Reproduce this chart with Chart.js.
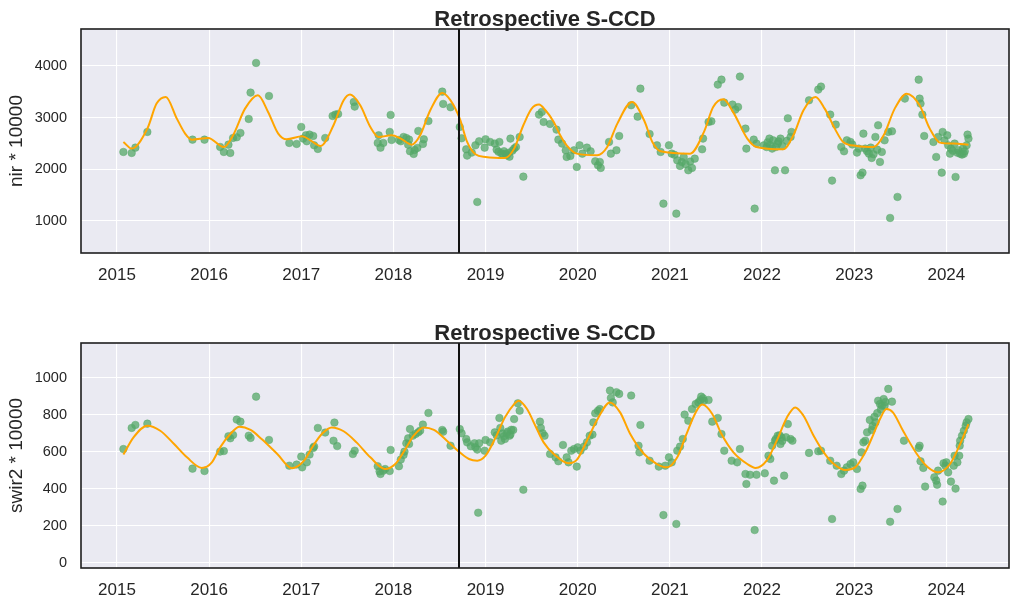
<!DOCTYPE html>
<html>
<head>
<meta charset="utf-8">
<script src="https://cdn.jsdelivr.net/npm/chart.js@4/dist/chart.umd.min.js"></script>
<style>
  html, body { margin: 0; padding: 0; background: #ffffff; }
  #wrap { position: relative; width: 1020px; height: 609px; overflow: hidden; }
  canvas { position: absolute; left: 0; }
</style>
</head>
<body>
<div id="wrap">
  <canvas id="c1" width="1020" height="300" style="top:0px;width:1020px;height:300px"></canvas>
  <canvas id="c2" width="1020" height="295" style="top:314px;width:1020px;height:295px"></canvas>
</div>
<script>
// ---------------- DATA ----------------
const chartTitle = "Retrospective S-CCD";
const yearTicks = [2015, 2016, 2017, 2018, 2019, 2020, 2021, 2022, 2023, 2024];
const breakDate = 2018.715;

const nirLabel = "nir * 10000";
const nirTicks = [1000, 2000, 3000, 4000];
const nirDates = [
  2015.07, 2015.16, 2015.20, 2015.33, 2015.82, 2015.95, 2016.12, 2016.16, 2016.21, 2016.23,
  2016.26, 2016.30, 2016.34, 2016.43, 2016.45, 2016.51, 2016.65, 2016.87, 2016.95, 2017.00,
  2017.02, 2017.05, 2017.06, 2017.09, 2017.13, 2017.14, 2017.18, 2017.26, 2017.34, 2017.37,
  2017.40, 2017.57, 2017.58, 2017.83, 2017.84, 2017.86, 2017.89, 2017.96, 2017.97, 2017.98,
  2018.06, 2018.08, 2018.11, 2018.14, 2018.16, 2018.17, 2018.18, 2018.22, 2018.23, 2018.26,
  2018.27, 2018.32, 2018.33, 2018.38, 2018.53, 2018.54, 2018.62, 2018.72, 2018.74, 2018.79,
  2018.80, 2018.85, 2018.89, 2018.91, 2018.93, 2018.99, 2019.00, 2019.05, 2019.10, 2019.12,
  2019.14, 2019.15, 2019.17, 2019.19, 2019.20, 2019.22, 2019.23, 2019.25, 2019.26, 2019.27,
  2019.29, 2019.31, 2019.33, 2019.37, 2019.41, 2019.58, 2019.61, 2019.63, 2019.70, 2019.77,
  2019.79, 2019.83, 2019.87, 2019.88, 2019.92, 2019.96, 2019.99, 2020.02, 2020.05, 2020.10,
  2020.14, 2020.19, 2020.22, 2020.24, 2020.25, 2020.34, 2020.36, 2020.42, 2020.45, 2020.58,
  2020.65, 2020.68, 2020.78, 2020.86, 2020.90, 2020.93, 2020.99, 2021.02, 2021.05, 2021.07,
  2021.08, 2021.11, 2021.13, 2021.15, 2021.17, 2021.20, 2021.22, 2021.24, 2021.27, 2021.35,
  2021.36, 2021.42, 2021.45, 2021.52, 2021.56, 2021.59, 2021.68, 2021.71, 2021.74, 2021.76,
  2021.82, 2021.83, 2021.91, 2021.92, 2021.94, 2022.02, 2022.05, 2022.06, 2022.08, 2022.09,
  2022.11, 2022.12, 2022.14, 2022.15, 2022.17, 2022.18, 2022.20, 2022.22, 2022.25, 2022.27,
  2022.28, 2022.31, 2022.32, 2022.51, 2022.61, 2022.64, 2022.74, 2022.76, 2022.80, 2022.86,
  2022.89, 2022.92, 2022.96, 2022.98, 2023.03, 2023.05, 2023.07, 2023.09, 2023.10, 2023.12,
  2023.14, 2023.16, 2023.18, 2023.19, 2023.21, 2023.23, 2023.25, 2023.26, 2023.28, 2023.30,
  2023.33, 2023.37, 2023.39, 2023.41, 2023.47, 2023.55, 2023.70, 2023.71, 2023.72, 2023.74,
  2023.76, 2023.86, 2023.89, 2023.91, 2023.95, 2023.96, 2023.98, 2024.01, 2024.02, 2024.04,
  2024.05, 2024.07, 2024.09, 2024.10, 2024.12, 2024.13, 2024.15, 2024.17, 2024.18, 2024.19,
  2024.20, 2024.22, 2024.23, 2024.24
];
const nirValues = [
  2335, 2316, 2419, 2723, 2574, 2574, 2432, 2335, 2477, 2316,
  2606, 2619, 2703, 2974, 3484, 4058, 3419, 2510, 2490, 2819,
  2594, 2658, 2542, 2671, 2645, 2464, 2394, 2606, 3032, 3058,
  3071, 3303, 3213, 2510, 2658, 2419, 2510, 2723, 3052, 2568,
  2568, 2542, 2626, 2606, 2477, 2574, 2348, 2297, 2374, 2413,
  2742, 2490, 2581, 2935, 3503, 3265, 3200, 2819, 2600, 2387,
  2265, 2323, 2464, 1368, 2542, 2419, 2581, 2529, 2497, 2380,
  2340, 2529, 2310, 2290, 2350, 2300, 2270, 2320, 2245, 2594,
  2360, 2400, 2432, 2626, 1858, 3058, 3110, 2916, 2877, 2768,
  2574, 2497, 2368, 2239, 2258, 2368, 2045, 2464, 2303, 2419,
  2348, 2155, 2077, 2142, 2026, 2529, 2303, 2368, 2645, 3239,
  3019, 3561, 2684, 2464, 2335, 1335, 2464, 2303, 2280, 1142,
  2174, 2065, 2140, 2239, 2100, 1981, 2150, 2026, 2206, 2387,
  2594, 2916, 2929, 3639, 3735, 3290, 3252, 3155, 3206, 3794,
  2787, 2400, 2574, 1239, 2497, 2464, 2430, 2520, 2594, 2470,
  2400, 2561, 1981, 2430, 2497, 2540, 2594, 2450, 1981, 2550,
  2987, 2626, 2723, 3335, 3542, 3600, 3058, 1781, 2865, 2432,
  2348, 2561, 2529, 2480, 2323, 2400, 1884, 1935, 2690, 2400,
  2350, 2303, 2420, 2219, 2290, 2626, 2380, 2852, 2142, 2335,
  2561, 2723, 1058, 2735, 1465, 3368, 3735, 3368, 3271, 3058,
  2645, 2529, 2239, 2626, 1935, 2723, 2561, 2658, 2464, 2303,
  2400, 2360, 2497, 1852, 2320, 2368, 2300, 2284, 2400, 2300,
  2350, 2464, 2671, 2594
];
const nirFitDates = [
  2015.07, 2015.16, 2015.33, 2015.43, 2015.53, 2015.65, 2015.74, 2015.81, 2015.99, 2016.16,
  2016.26, 2016.39, 2016.53, 2016.64, 2016.75, 2016.84, 2017.01, 2017.10, 2017.21, 2017.35,
  2017.46, 2017.53, 2017.64, 2017.75, 2017.84, 2017.98, 2018.08, 2018.20, 2018.29, 2018.40,
  2018.53, 2018.62, 2018.72, 2018.80, 2018.89, 2019.00, 2019.21, 2019.31, 2019.41, 2019.50,
  2019.58, 2019.65, 2019.74, 2019.81, 2019.88, 2019.99, 2020.21, 2020.32, 2020.43, 2020.59,
  2020.72, 2020.81, 2020.90, 2021.22, 2021.37, 2021.47, 2021.58, 2021.69, 2021.84, 2021.94,
  2022.23, 2022.34, 2022.45, 2022.58, 2022.68, 2022.79, 2022.88, 2023.03, 2023.21, 2023.32,
  2023.44, 2023.57, 2023.71, 2023.82, 2023.93, 2024.08, 2024.24
];
const nirFitValues = [
  2529, 2400, 2787, 3271, 3400, 2981, 2690, 2574, 2606, 2432,
  2658, 3174, 3432, 3110, 2690, 2581, 2639, 2561, 2452, 2852,
  3335, 3445, 3239, 2819, 2626, 2658, 2594, 2477, 2658, 3142,
  3477, 3335, 2981, 2529, 2290, 2239, 2219, 2400, 2852, 3174,
  3252, 3142, 2916, 2658, 2464, 2303, 2271, 2432, 2884, 3303,
  2948, 2529, 2348, 2303, 2723, 3206, 3355, 3097, 2594, 2432,
  2387, 2658, 3142, 3400, 3174, 2787, 2529, 2452, 2432, 2658,
  3174, 3464, 3239, 2787, 2516, 2497, 2477
];

const swirLabel = "swir2 * 10000";
const swirTicks = [0, 200, 400, 600, 800, 1000];
const swirDates = [
  2015.07, 2015.16, 2015.20, 2015.33, 2015.82, 2015.95, 2016.12, 2016.16, 2016.21, 2016.23,
  2016.26, 2016.30, 2016.34, 2016.43, 2016.45, 2016.51, 2016.65, 2016.87, 2016.95, 2017.00,
  2017.01, 2017.06, 2017.09, 2017.13, 2017.14, 2017.18, 2017.26, 2017.35, 2017.36, 2017.39,
  2017.56, 2017.58, 2017.83, 2017.85, 2017.86, 2017.89, 2017.91, 2017.96, 2017.97, 2018.06,
  2018.08, 2018.11, 2018.12, 2018.14, 2018.16, 2018.17, 2018.18, 2018.21, 2018.24, 2018.27,
  2018.29, 2018.32, 2018.38, 2018.53, 2018.54, 2018.62, 2018.72, 2018.74, 2018.79, 2018.80,
  2018.84, 2018.88, 2018.89, 2018.91, 2018.92, 2018.93, 2018.99, 2019.00, 2019.05, 2019.10,
  2019.12, 2019.15, 2019.16, 2019.17, 2019.18, 2019.20, 2019.21, 2019.23, 2019.24, 2019.26,
  2019.27, 2019.28, 2019.30, 2019.31, 2019.35, 2019.37, 2019.41, 2019.59, 2019.60, 2019.62,
  2019.64, 2019.70, 2019.76, 2019.79, 2019.84, 2019.88, 2019.90, 2019.93, 2019.96, 2019.99,
  2020.00, 2020.03, 2020.07, 2020.10, 2020.13, 2020.16, 2020.17, 2020.19, 2020.22, 2020.24,
  2020.35, 2020.36, 2020.38, 2020.42, 2020.45, 2020.58, 2020.66, 2020.67, 2020.68, 2020.78,
  2020.88, 2020.93, 2020.95, 2020.99, 2021.02, 2021.07, 2021.08, 2021.11, 2021.14, 2021.16,
  2021.20, 2021.24, 2021.28, 2021.31, 2021.33, 2021.34, 2021.36, 2021.37, 2021.42, 2021.46,
  2021.52, 2021.56, 2021.59, 2021.67, 2021.73, 2021.76, 2021.82, 2021.83, 2021.87, 2021.92,
  2021.94, 2022.03, 2022.07, 2022.09, 2022.11, 2022.13, 2022.14, 2022.15, 2022.17, 2022.19,
  2022.20, 2022.21, 2022.22, 2022.24, 2022.26, 2022.28, 2022.31, 2022.33, 2022.51, 2022.61,
  2022.64, 2022.74, 2022.76, 2022.81, 2022.86, 2022.89, 2022.92, 2022.96, 2022.99, 2023.03,
  2023.07, 2023.08, 2023.09, 2023.10, 2023.12, 2023.14, 2023.17, 2023.19, 2023.20, 2023.22,
  2023.23, 2023.25, 2023.26, 2023.28, 2023.29, 2023.30, 2023.32, 2023.33, 2023.34, 2023.37,
  2023.39, 2023.41, 2023.47, 2023.54, 2023.70, 2023.71, 2023.72, 2023.75, 2023.77, 2023.87,
  2023.89, 2023.90, 2023.91, 2023.96, 2023.97, 2023.99, 2024.00, 2024.02, 2024.05, 2024.08,
  2024.09, 2024.10, 2024.12, 2024.14, 2024.145, 2024.15, 2024.17, 2024.19, 2024.21, 2024.22,
  2024.24
];
const swirValues = [
  616, 730, 746, 753, 510, 497, 602, 605, 685, 674,
  692, 775, 764, 688, 676, 899, 665, 526, 532, 575,
  517, 544, 586, 622, 629, 730, 705, 661, 759, 632,
  589, 607, 523, 495, 481, 499, 508, 497, 611, 523,
  559, 584, 602, 647, 674, 643, 724, 688, 697, 706,
  715, 748, 811, 719, 710, 634, 724, 701, 670, 652,
  631, 647, 625, 613, 272, 647, 607, 665, 652, 706,
  690, 784, 730, 661, 700, 685, 670, 701, 710, 688,
  695, 720, 719, 778, 863, 823, 396, 764, 730, 701,
  688, 589, 571, 550, 638, 571, 544, 607, 616, 521,
  625, 607, 629, 652, 688, 694, 760, 809, 823, 832,
  932, 892, 868, 923, 914, 905, 634, 598, 746, 553,
  521, 259, 526, 571, 544, 211, 607, 629, 670, 802,
  769, 832, 859, 868, 880, 899, 890, 877, 881, 764,
  784, 697, 607, 553, 544, 616, 481, 427, 477, 178,
  477, 485, 580, 562, 634, 445, 661, 670, 688, 690,
  643, 679, 660, 472, 680, 751, 670, 661, 595, 604,
  607, 553, 238, 526, 481, 499, 517, 535, 544, 508,
  400, 598, 418, 652, 661, 706, 773, 719, 740, 790,
  760, 810, 877, 859, 830, 850, 886, 850, 870, 941,
  223, 872, 292, 661, 622, 634, 550, 514, 413, 463,
  445, 423, 499, 332, 539, 526, 544, 490, 440, 526,
  580, 402, 544, 580, 634, 661, 688, 715, 742, 760,
  778
];
const swirFitDates = [
  2015.07, 2015.18, 2015.33, 2015.47, 2015.62, 2015.76, 2015.92, 2016.03, 2016.12, 2016.23,
  2016.33, 2016.45, 2016.57, 2016.74, 2016.90, 2017.03, 2017.13, 2017.23, 2017.33, 2017.46,
  2017.60, 2017.75, 2017.91, 2018.02, 2018.13, 2018.22, 2018.33, 2018.44, 2018.58, 2018.72,
  2018.82, 2018.91, 2019.00, 2019.11, 2019.21, 2019.31, 2019.36, 2019.45, 2019.54, 2019.63,
  2019.74, 2019.90, 2019.99, 2020.10, 2020.21, 2020.35, 2020.46, 2020.57, 2020.72, 2020.86,
  2020.97, 2021.08, 2021.18, 2021.28, 2021.35, 2021.46, 2021.56, 2021.69, 2021.84, 2021.93,
  2022.05, 2022.16, 2022.27, 2022.36, 2022.45, 2022.56, 2022.67, 2022.77, 2022.90, 2023.01,
  2023.12, 2023.21, 2023.28, 2023.35, 2023.42, 2023.53, 2023.68, 2023.80, 2023.91, 2024.04,
  2024.15, 2024.24
];
const swirFitValues = [
  586, 679, 742, 715, 643, 571, 514, 544, 625, 697,
  737, 719, 670, 589, 512, 553, 634, 701, 733, 712,
  652, 571, 508, 535, 616, 688, 733, 719, 661, 598,
  562, 553, 580, 679, 787, 859, 877, 832, 742, 652,
  589, 539, 557, 661, 773, 868, 814, 697, 589, 535,
  517, 571, 697, 814, 856, 805, 697, 598, 535, 514,
  553, 661, 787, 841, 796, 688, 598, 539, 503, 517,
  598, 697, 778, 832, 814, 715, 589, 517, 490, 535,
  643, 751
];

// ---------------- STYLE / HELPERS ----------------
const TEXT = '#262626';
const FONT = "'Liberation Sans', Arial, 'DejaVu Sans', sans-serif";

function pairs(xs, ys) { return xs.map((x, i) => ({ x: x, y: ys[i] })); }

const decorPlugin = {
  id: 'decor',
  beforeDraw(chart) {
    const { ctx, chartArea: a } = chart;
    ctx.save();
    ctx.fillStyle = '#eaeaf2';
    ctx.fillRect(a.left, a.top, a.right - a.left, a.bottom - a.top);
    ctx.restore();
  },
  afterDatasetsDraw(chart) {
    const { ctx, chartArea: a, scales } = chart;
    const bx = Math.round(scales.x.getPixelForValue(breakDate));
    ctx.save();
    ctx.strokeStyle = '#111111';
    ctx.lineWidth = 2;
    ctx.beginPath();
    ctx.moveTo(bx, a.top);
    ctx.lineTo(bx, a.bottom);
    ctx.stroke();
    ctx.strokeStyle = '#1f1f1f';
    ctx.lineWidth = 1.6;
    ctx.strokeRect(a.left, a.top, a.right - a.left, a.bottom - a.top);
    ctx.restore();
  }
};

function makeChart(canvasId, cfg) {
  return new Chart(document.getElementById(canvasId), {
    data: {
      datasets: [
        {
          type: 'line',
          data: pairs(cfg.fitX, cfg.fitY),
          borderColor: '#ffa500',
          borderWidth: 2,
          pointRadius: 0,
          cubicInterpolationMode: 'monotone',
          fill: false
        },
        {
          type: 'scatter',
          data: pairs(cfg.ptX, cfg.ptY),
          backgroundColor: 'rgba(85,168,104,0.75)',
          borderColor: 'rgba(85,168,104,0.55)',
          borderWidth: 0.8,
          pointRadius: 3.8,
          pointHoverRadius: 3.8
        }
      ]
    },
    options: {
      responsive: false,
      animation: false,
      devicePixelRatio: 1,
      layout: { padding: { left: 0, right: 11, top: 0, bottom: 0 } },
      plugins: {
        legend: { display: false },
        tooltip: { enabled: false },
        title: {
          display: true,
          fullSize: false,
          text: chartTitle,
          color: TEXT,
          font: { family: FONT, size: 22, weight: 'bold', lineHeight: 1.2 },
          padding: { top: 6.5, bottom: -3.9 }
        }
      },
      scales: {
        x: {
          type: 'linear',
          min: 2014.61,
          max: 2024.68,
          afterBuildTicks: (s) => { s.ticks = yearTicks.map(v => ({ value: v })); },
          afterFit: (s) => { s.height = cfg.xAxisHeight; },
          grid: { color: '#ffffff', lineWidth: 1.1, drawTicks: false },
          border: { display: false },
          ticks: {
            color: TEXT,
            padding: 12,
            maxRotation: 0,
            autoSkip: false,
            font: { family: FONT, size: 17 },
            callback: (v) => String(v)
          }
        },
        y: {
          type: 'linear',
          min: cfg.yMin,
          max: cfg.yMax,
          afterBuildTicks: (s) => { s.ticks = cfg.yTicks.map(v => ({ value: v })); },
          afterFit: (s) => { s.width = 81; },
          grid: { color: '#ffffff', lineWidth: 1.1, drawTicks: false },
          border: { display: false },
          title: {
            display: true,
            text: cfg.yLabel,
            color: TEXT,
            font: { family: FONT, size: 19, lineHeight: 1.2 },
            padding: { top: 5.3, bottom: 0 }
          },
          ticks: {
            color: TEXT,
            padding: 14,
            autoSkip: false,
            font: { family: FONT, size: 14.5 },
            callback: (v) => String(v)
          }
        }
      }
    },
    plugins: [decorPlugin]
  });
}

makeChart('c1', {
  fitX: nirFitDates, fitY: nirFitValues,
  ptX: nirDates, ptY: nirValues,
  yMin: 380, yMax: 4715, yTicks: nirTicks, yLabel: nirLabel,
  xAxisHeight: 47
});
makeChart('c2', {
  fitX: swirFitDates, fitY: swirFitValues,
  ptX: swirDates, ptY: swirValues,
  yMin: -27, yMax: 1189, yTicks: swirTicks, yLabel: swirLabel,
  xAxisHeight: 41
});
</script>
</body>
</html>
